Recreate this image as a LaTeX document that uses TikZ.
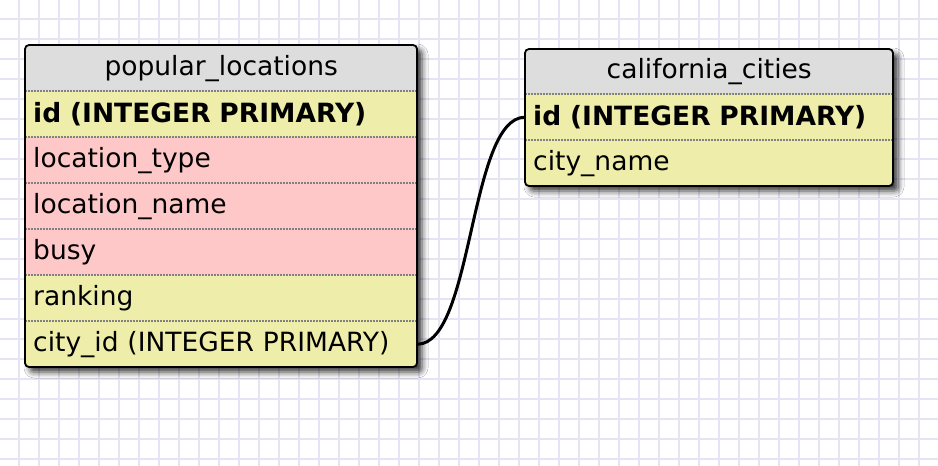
\documentclass[tikz,border=0pt]{standalone}
\usepackage{fontspec}
\setmainfont{DejaVu Sans}
\usetikzlibrary{shadows.blur}
\definecolor{gridblue}{HTML}{E4E4F4}
\definecolor{headgray}{HTML}{DDDDDD}
\definecolor{keyyellow}{HTML}{EEEEAA}
\definecolor{fieldpink}{HTML}{FFC8C8}
\begin{document}
\begin{tikzpicture}[x=1pt,y=-1pt,
        gridline/.style={gridblue,line width=2pt},
        tableframe/.style={line width=1.8pt,rounded corners=4pt},
        tableshadow/.style={fill=keyyellow,rounded corners=4pt,
            blur shadow={shadow xshift=5pt,shadow yshift=-5pt,shadow blur radius=6pt,shadow opacity=80}},
        tablehead/.style={fill=headgray,minimum height=46pt,inner sep=0pt,font=\fontsize{26.5}{30}\selectfont},
        row/.style={anchor=north west,minimum height=46pt,inner xsep=8pt,inner ysep=0pt,align=left,
            font=\fontsize{26.5}{30}\selectfont},
        leftrow/.style={row,text width=376pt},
        rightrow/.style={row,text width=352pt},
        yellowrow/.style={fill=keyyellow},
        pinkrow/.style={fill=fieldpink},
        sepline/.style={gray,line width=1.4pt,dash pattern=on 1.5pt off 1.5pt},
        link/.style={line width=3pt}]
    \useasboundingbox (0,0) rectangle (938,466);
    \fill[white] (0,0) rectangle (938,466);
    \foreach \gx in {19,39,...,938}
        \draw[gridline] (\gx,0) -- (\gx,466);
    \foreach \gy in {19,39,...,466}
        \draw[gridline] (0,\gy) -- (938,\gy);
    % popular_locations
    \begin{scope}
        \path[tableshadow] (25,45) rectangle (417,367);
        \clip[rounded corners=4pt] (25,45) rectangle (417,367);
        \node[tablehead,minimum width=392pt,anchor=north west] (plhead) at (25,45) {popular\_locations};
        \node[leftrow,yellowrow] (plid) at (25,91) {\bfseries id (INTEGER PRIMARY)};
        \node[leftrow,pinkrow] (pltype) at (25,137) {location\_type};
        \node[leftrow,pinkrow] (plname) at (25,183) {location\_name};
        \node[leftrow,pinkrow] (plbusy) at (25,229) {busy};
        \node[leftrow,yellowrow] (plrank) at (25,275) {ranking};
        \node[leftrow,yellowrow] (plcity) at (25,321) {city\_id (INTEGER PRIMARY)};
        \foreach \r in {plid,pltype,plname,plbusy,plrank,plcity}
            \draw[sepline] (\r.north west) -- (\r.north east);
    \end{scope}
    \draw[tableframe] (25,45) rectangle (417,367);
    % california_cities
    \begin{scope}
        \path[tableshadow] (525,49) rectangle (893,186);
        \clip[rounded corners=4pt] (525,49) rectangle (893,186);
        \node[tablehead,minimum width=368pt,anchor=north west,minimum height=45pt] (cchead) at (525,49) {california\_cities};
        \node[rightrow,yellowrow] (ccid) at (525,94) {\bfseries id (INTEGER PRIMARY)};
        \node[rightrow,yellowrow] (ccname) at (525,140) {city\_name};
        \foreach \r in {ccid,ccname}
            \draw[sepline] (\r.north west) -- (\r.north east);
    \end{scope}
    \draw[tableframe] (525,49) rectangle (893,186);
    % link
    \draw[link] (plcity.east) .. controls +(56,0) and +(-56,0) .. (ccid.west);
\end{tikzpicture}
\end{document}
